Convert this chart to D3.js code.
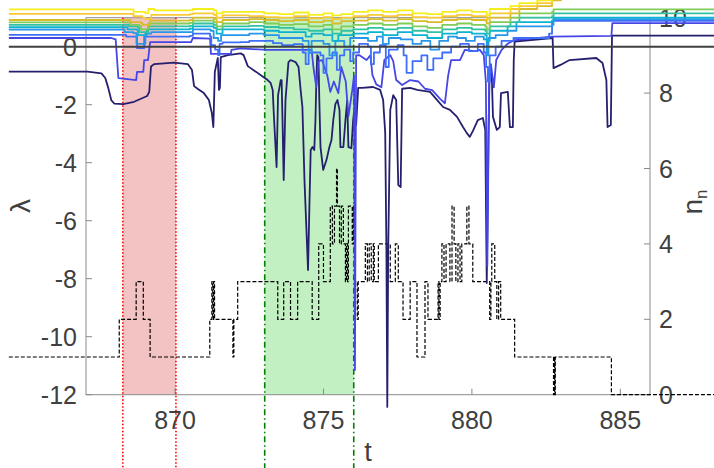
<!DOCTYPE html>
<html><head><meta charset="utf-8">
<script src="https://cdn.jsdelivr.net/npm/d3@7/dist/d3.min.js"></script>
<style>html,body{margin:0;padding:0;background:#fff;}svg{display:block;font-family:"Liberation Sans",Arial,Helvetica,sans-serif;}</style>
</head><body>
<svg id="chart" width="714" height="468"></svg>
<script>
// ---------- data ----------
const xTicks = [870, 875, 880, 885];
const yLeftTicks = [-12, -10, -8, -6, -4, -2, 0];
const yRightTicks = [0, 2, 4, 6, 8, 10];
const redWindow = [868.24, 870.03];
const greenWindow = [873.02, 876.02];
const lineColors = ["#25206e","#4646e6","#3f6ffa","#2796eb","#0cb2d2","#31c2a2","#80cc59","#d8bc2c","#fbc934","#f5ee1e"];

const lam1 = [[864.4,-0.86],[867.05,-0.86],[867.52,-0.92],[867.65,-1.08],[867.75,-1.42],[867.85,-1.84],[867.95,-1.96],[868.25,-1.98],[868.62,-1.90],[869.06,-1.70],[869.13,-1.56],[869.19,-0.68],[869.30,-0.60],[869.97,-0.55],[870.43,-0.60],[870.57,-0.80],[870.64,-1.36],[870.77,-1.46],[870.97,-1.60],[871.14,-1.84],[871.24,-2.29],[871.29,-2.77],[871.34,-0.87],[871.41,-0.53],[871.44,-0.39],[871.48,-1.49],[871.51,-1.42],[871.54,-0.36],[871.78,-0.29],[872.21,-0.23],[872.31,-0.29],[872.45,-0.67],[872.72,-0.86],[872.95,-1.03],[873.12,-1.15],[873.22,-1.25],[873.29,-1.49],[873.32,-2.18],[873.42,-4.15],[873.47,-1.67],[873.56,-1.15],[873.59,-1.15],[873.62,-2.53],[873.66,-4.60],[873.72,-1.84],[873.82,-0.53],[873.89,-0.46],[874.06,-0.53],[874.16,-0.70],[874.23,-1.49],[874.29,-2.08],[874.36,-4.60],[874.48,-7.70],[874.53,-5.29],[874.57,-3.56],[874.63,-3.46],[874.69,-3.56],[874.73,-2.53],[874.76,-1.15],[874.79,-0.29],[874.83,-0.36],[874.86,-1.84],[874.90,-3.46],[874.99,-4.25],[875.10,-3.91],[875.20,-3.46],[875.27,-3.22],[875.33,-2.53],[875.40,-1.98],[875.47,-1.84],[875.54,-2.18],[875.57,-3.46],[875.67,-3.46],[875.74,-2.53],[875.80,-1.84],[875.84,-3.46],[875.94,-3.50],[876.00,-2.53],[876.04,-2.18],[876.10,-2.70],[876.17,-1.42],[876.30,-1.42],[876.67,-1.39],[876.91,-1.49],[877.01,-1.84],[877.08,-2.98],[877.12,-7.0],[877.15,-12.42],[877.18,-7.0],[877.25,-2.18],[877.35,-1.67],[877.45,-1.84],[877.52,-4.77],[877.60,-4.84],[877.65,-1.45],[877.92,-1.42],[878.16,-1.49],[878.59,-1.56],[878.83,-1.84],[879.03,-2.08],[879.26,-2.18],[879.50,-2.42],[879.70,-2.77],[879.83,-2.98],[879.93,-3.11],[880.03,-2.91],[880.20,-2.53],[880.37,-2.46],[880.45,-2.87],[880.50,-8.15],[880.56,-3.0],[880.60,-0.70],[880.67,-1.0],[880.71,-2.42],[880.84,-2.87],[880.94,-2.77],[880.98,-1.60],[881.21,-1.56],[881.28,-2.77],[881.38,-2.77],[881.41,-0.46],[881.44,0.18],[882.72,0.30],[882.75,-0.74],[883.0,-0.62],[883.29,-0.46],[884.19,-0.39],[884.40,-0.56],[884.53,-1.15],[884.57,-2.77],[884.68,-2.70],[884.72,0.38],[889,0.38]];

const lam2 = [[864.4,0.30],[867.85,0.30],[868.0,0.25],[868.09,-1.08],[868.69,-1.15],[868.72,-0.87],[868.93,-0.87],[868.96,-0.46],[869.09,-0.46],[869.13,-0.11],[869.16,0.16],[870.54,0.16],[870.60,0.30],[871.18,0.28],[871.21,-0.25],[871.88,-0.25],[871.90,-0.11],[872.21,-0.06],[873.1,-0.11],[874.6,-0.11],[874.66,-0.70],[874.76,-1.40],[874.83,-0.5],[874.95,-0.46],[875.13,-1.0],[875.23,-1.56],[875.35,-1.2],[875.5,-1.6],[875.6,-0.70],[875.75,-1.2],[875.84,-2.4],[875.97,-1.5],[876.03,-1.0],[876.06,-11.15],[876.10,-0.3],[876.2,-0.29],[876.45,-0.46],[876.58,-0.3],[876.65,-0.98],[876.78,-1.3],[876.95,-1.4],[877.05,-0.46],[877.25,-0.29],[877.35,-0.5],[877.45,-1.15],[877.65,-1.32],[877.92,-1.15],[878.2,-1.2],[878.42,-1.45],[878.66,-1.5],[878.93,-1.80],[879.09,-1.95],[879.20,-1.0],[879.30,-0.46],[879.6,-0.46],[879.76,-0.11],[880.1,-0.15],[880.27,-0.11],[880.4,-0.29],[880.47,-1.2],[880.52,-7.56],[880.58,-1.3],[880.64,-0.6],[880.74,-1.4],[880.82,-0.46],[881.0,-0.11],[881.2,0.10],[881.44,0.23],[882.7,0.35],[884.70,0.37],[884.73,0.81],[889,0.81]];

const lam3 = [[864.4,0.41],[868.3,0.41],[868.35,0.35],[868.69,0.35],[868.72,-0.05],[868.93,-0.05],[868.96,0.35],[870.5,0.37],[870.6,0.45],[871.18,0.35],[871.22,0.05],[871.35,-0.10],[871.45,-0.29],[871.5,0.1],[871.6,0.15],[872.2,0.16],[872.5,0.2],[873.0,0.2],[873.3,0.12],[873.6,0.05],[874.0,0.09],[874.3,-0.2],[874.4,-0.6],[874.5,-0.2],[874.9,-0.3],[875.0,-0.9],[875.1,-0.4],[875.3,-0.2],[875.45,-0.8],[875.55,-0.3],[875.7,-0.1],[875.9,-0.5],[876.0,-0.2],[876.2,0.1],[876.5,0.0],[876.6,-0.6],[876.7,-0.2],[876.9,0.05],[877.1,-0.7],[877.2,-0.1],[877.5,0.05],[877.7,-0.3],[877.8,-0.9],[878.0,-0.5],[878.3,-0.3],[878.5,-0.8],[878.7,-0.4],[879.0,-0.2],[879.3,0.0],[879.6,0.1],[879.9,-0.15],[880.2,0.1],[880.4,-0.2],[880.48,-0.7],[880.54,-1.2],[880.6,-0.3],[880.8,0.0],[881.0,0.2],[881.4,0.3],[882.6,0.45],[882.7,0.89],[889,0.89]];

const lam4 = [[864.4,0.59],[868.2,0.59],[868.3,0.50],[868.6,0.47],[868.7,0.10],[868.95,0.1],[869.0,0.45],[869.2,0.5],[870.5,0.5],[870.6,0.6],[871.2,0.55],[871.3,0.3],[871.45,0.2],[871.55,0.4],[872.0,0.4],[872.5,0.45],[873.0,0.4],[873.5,0.3],[874.0,0.3],[874.3,0.2],[874.5,-0.2],[874.6,0.2],[875.0,0.1],[875.2,-0.3],[875.4,0.2],[875.7,0.0],[875.9,0.3],[876.2,0.3],[876.5,0.2],[876.8,0.35],[877.0,0.1],[877.2,0.3],[877.6,0.25],[878.0,0.1],[878.3,0.2],[878.6,-0.1],[878.9,0.2],[879.2,0.35],[879.5,0.3],[879.8,0.2],[880.1,0.35],[880.4,0.25],[880.5,-0.3],[880.56,0.3],[880.8,0.4],[881.2,0.55],[881.5,0.7],[882.7,0.75],[882.75,0.95],[889,0.95]];

const lam5 = [[864.4,0.67],[868.3,0.67],[868.4,0.6],[868.7,0.58],[868.75,0.4],[869.0,0.4],[869.05,0.6],[870.5,0.62],[870.6,0.7],[871.3,0.65],[871.4,0.45],[871.6,0.6],[872.5,0.6],[873.0,0.55],[873.5,0.5],[874.0,0.5],[874.4,0.35],[874.6,0.45],[875.0,0.4],[875.3,0.2],[875.5,0.4],[876.0,0.45],[876.5,0.5],[877.0,0.4],[877.5,0.5],[878.0,0.4],[878.5,0.3],[879.0,0.45],[879.5,0.5],[880.0,0.45],[880.45,0.4],[880.5,0.2],[880.6,0.55],[881.2,0.7],[881.5,0.85],[882.7,0.9],[882.75,1.0],[889,1.0]];

const lam6 = [[864.4,0.75],[868.35,0.75],[868.45,0.7],[868.75,0.65],[868.8,0.5],[869.0,0.5],[869.1,0.7],[870.5,0.72],[870.6,0.8],[871.3,0.75],[871.4,0.6],[871.6,0.7],[872.5,0.72],[873.0,0.68],[873.5,0.65],[874.0,0.6],[874.5,0.55],[875.0,0.6],[875.3,0.45],[875.6,0.55],[876.0,0.6],[876.5,0.65],[877.0,0.6],[877.5,0.65],[878.0,0.55],[878.5,0.5],[879.0,0.6],[879.5,0.65],[880.0,0.6],[880.45,0.55],[880.5,0.45],[880.6,0.7],[881.3,0.85],[881.6,1.0],[882.7,1.05],[882.75,1.15],[889,1.15]];

const lam7 = [[864.4,0.84],[868.35,0.84],[868.5,0.75],[868.8,0.72],[868.85,0.6],[869.0,0.6],[869.1,0.8],[870.5,0.82],[870.6,0.9],[871.3,0.85],[871.4,0.7],[871.6,0.8],[872.5,0.85],[873.0,0.8],[873.5,0.75],[874.0,0.78],[874.5,0.7],[875.0,0.75],[875.3,0.6],[875.6,0.7],[876.0,0.75],[876.5,0.8],[877.0,0.75],[877.5,0.8],[878.0,0.7],[878.5,0.65],[879.0,0.75],[879.5,0.8],[880.0,0.75],[880.45,0.7],[880.5,0.6],[880.6,0.85],[881.3,1.0],[881.6,1.15],[882.7,1.2],[882.75,1.29],[889,1.29]];

const lam8 = [[864.4,0.92],[868.4,0.92],[868.5,0.85],[868.85,0.82],[868.9,0.75],[869.05,0.75],[869.15,0.9],[870.5,0.92],[870.6,1.0],[871.3,0.95],[871.4,0.85],[871.6,0.92],[872.5,0.95],[873.0,0.92],[873.5,0.88],[874.0,0.92],[874.5,0.85],[875.0,0.9],[875.3,0.8],[875.6,0.88],[876.0,0.9],[876.5,0.95],[877.0,0.9],[877.5,0.95],[878.0,0.88],[878.5,0.85],[879.0,0.92],[879.5,0.95],[880.0,0.92],[880.45,0.9],[880.5,0.8],[880.6,1.0],[881.3,1.15],[881.6,1.3],[882.2,1.4],[882.7,1.6],[883.0,1.8],[889,1.8]];

const lam9 = [[864.4,1.13],[868.4,1.13],[868.6,1.05],[868.9,1.0],[869.0,0.95],[869.1,0.95],[869.2,1.1],[870.5,1.12],[870.6,1.15],[871.3,1.1],[871.4,1.0],[871.6,1.08],[872.5,1.05],[873.0,1.02],[873.5,1.0],[874.0,1.05],[874.5,0.98],[875.0,1.02],[875.3,0.95],[875.6,1.0],[876.0,1.05],[876.5,1.1],[877.0,1.05],[877.5,1.1],[878.0,1.02],[878.5,1.0],[879.0,1.05],[879.5,1.1],[880.0,1.05],[880.45,1.05],[880.5,0.95],[880.6,1.15],[881.3,1.3],[881.6,1.4],[882.2,1.5],[882.7,1.7],[883.0,2.0],[889,2.0]];

const lam10 = [[864.4,1.29],[868.4,1.29],[868.6,1.2],[869.0,1.15],[869.1,1.3],[869.3,1.25],[870.5,1.25],[870.6,1.3],[871.3,1.25],[871.4,1.15],[871.6,1.2],[872.5,1.2],[873.0,1.15],[873.5,1.12],[874.0,1.18],[874.5,1.1],[875.0,1.15],[875.3,1.08],[875.6,1.12],[876.0,1.2],[876.5,1.25],[877.0,1.2],[877.5,1.25],[878.0,1.15],[878.5,1.12],[879.0,1.2],[879.5,1.25],[880.0,1.2],[880.45,1.2],[880.5,1.1],[880.6,1.3],[881.3,1.4],[881.6,1.5],[882.2,1.6],[882.7,1.8],[883.0,2.2],[889,2.2]];

const nn = [[864.4,1],[868.12,2],[868.69,3],[868.93,2],[869.16,1],[871.17,2],[871.24,3],[871.27,2],[871.30,3],[871.33,2],[871.95,1],[871.98,2],[872.11,3],[873.46,2],[873.66,3],[873.89,2],[874.13,3],[874.62,2],[874.84,4],[875.0,3],[875.23,5],[875.30,4],[875.37,5],[875.44,6],[875.47,5],[875.54,4],[875.60,5],[875.67,4],[875.74,3],[875.77,4],[875.81,3],[875.84,5],[875.97,4],[876.01,5],[876.07,3],[876.14,2],[876.17,3],[876.41,4],[876.48,3],[876.54,4],[876.61,3],[876.68,4],[876.71,3],[876.85,4],[877.25,3],[877.42,4],[877.52,3],[877.68,2],[877.92,3],[878.15,1],[878.42,3],[878.52,2],[878.86,3],[878.89,2],[878.93,3],[878.99,4],[879.06,3],[879.13,4],[879.26,3],[879.33,5],[879.40,4],[879.46,3],[879.53,4],[879.60,3],[879.66,4],[879.83,5],[879.90,4],[880.03,3],[880.60,2],[880.64,3],[880.67,4],[880.77,3],[880.84,2],[880.90,3],[880.97,2],[881.44,1],[882.75,0],[882.77,1],[882.79,0],[882.81,1],[884.70,0],[889,0]];

const lambdas = [lam1, lam2, lam3, lam4, lam5, lam6, lam7, lam8, lam9, lam10];

// ---------- layout ----------
const svg = d3.select("#chart");
const L = 86, R = 650, T = 17.7, B = 394.7;
const x = d3.scaleLinear().domain([867, 886]).range([L, R]);
const yL = d3.scaleLinear().domain([-12, 1]).range([B, T]);
const yR = d3.scaleLinear().domain([0, 10]).range([B, T]);
const axisGray = "#8a8a8a", textGray = "#404040";

// shaded windows
[[redWindow, "#f3c2c2"], [greenWindow, "#c2f0c2"]].forEach(([w, c]) => {
  svg.append("rect").attr("x", x(w[0])).attr("y", yL(1))
    .attr("width", x(w[1]) - x(w[0])).attr("height", yL(-12) - yL(1)).attr("fill", c);
});

// axes box
const g = svg.append("g");
g.append("rect").attr("x", L).attr("y", T).attr("width", R - L).attr("height", B - T)
  .attr("fill", "none").attr("stroke", axisGray).attr("stroke-width", 1);

const fs = 25;
xTicks.forEach(v => {
  g.append("line").attr("x1", x(v)).attr("x2", x(v)).attr("y1", B).attr("y2", B - 6).attr("stroke", axisGray);
  g.append("text").attr("x", x(v)).attr("y", B + 34.5).attr("text-anchor", "middle")
    .attr("font-size", fs).attr("fill", textGray).text(v);
});
yLeftTicks.forEach(v => {
  g.append("line").attr("x1", L).attr("x2", L + 6).attr("y1", yL(v)).attr("y2", yL(v)).attr("stroke", axisGray);
  g.append("text").attr("x", L - 9).attr("y", yL(v)).attr("dy", "0.36em").attr("text-anchor", "end")
    .attr("font-size", fs).attr("fill", textGray).text(v);
});
yRightTicks.forEach(v => {
  g.append("line").attr("x1", R).attr("x2", R - 6).attr("y1", yR(v)).attr("y2", yR(v)).attr("stroke", axisGray);
  g.append("text").attr("x", R + 9).attr("y", yR(v)).attr("dy", "0.36em").attr("text-anchor", "start")
    .attr("font-size", fs).attr("fill", textGray).text(v);
});

// window boundary lines
const yTopLine = yL(1), yBotLine = yL(-14.6);
redWindow.forEach(v => svg.append("line").attr("x1", x(v)).attr("x2", x(v)).attr("y1", yTopLine).attr("y2", yBotLine)
  .attr("stroke", "#ff0000").attr("stroke-width", 1.6).attr("stroke-dasharray", "1.5,2"));
greenWindow.forEach(v => svg.append("line").attr("x1", x(v)).attr("x2", x(v)).attr("y1", yTopLine).attr("y2", yBotLine)
  .attr("stroke", "#008000").attr("stroke-width", 1.6).attr("stroke-dasharray", "6,3,1.5,3"));

// n_n dashed step line
svg.append("path").datum(nn)
  .attr("d", d3.line().x(d => x(d[0])).y(d => yR(d[1])).curve(d3.curveStepAfter))
  .attr("fill", "none").attr("stroke", "#000").attr("stroke-width", 1.2).attr("stroke-dasharray", "4,2");

// lambda lines
lambdas.forEach((s, i) => {
  svg.append("path").datum(s)
    .attr("d", d3.line().x(d => x(d[0])).y(d => yL(d[1])).curve(i < 2 ? d3.curveLinear : d3.curveStepAfter))
    .attr("fill", "none").attr("stroke", lineColors[i]).attr("stroke-width", 1.8).attr("stroke-linejoin", "round");
});

// zero line
svg.append("line").attr("x1", x(864.4)).attr("x2", 714).attr("y1", yL(0)).attr("y2", yL(0))
  .attr("stroke", "#404040").attr("stroke-width", 2);

// axis labels
svg.append("text").attr("x", 368).attr("y", 461).attr("text-anchor", "middle")
  .attr("font-size", 27).attr("fill", textGray).text("t");
svg.append("text").attr("transform", "translate(30,206) rotate(-90)").attr("text-anchor", "middle")
  .attr("font-size", 28).attr("fill", textGray).text("λ");
const nl = svg.append("text").attr("transform", "translate(702,202) rotate(-90)").attr("text-anchor", "middle")
  .attr("font-size", 28).attr("fill", textGray);
nl.append("tspan").text("n");
nl.append("tspan").attr("font-size", 17).attr("dy", 5).text("n");
</script>
</body></html>
